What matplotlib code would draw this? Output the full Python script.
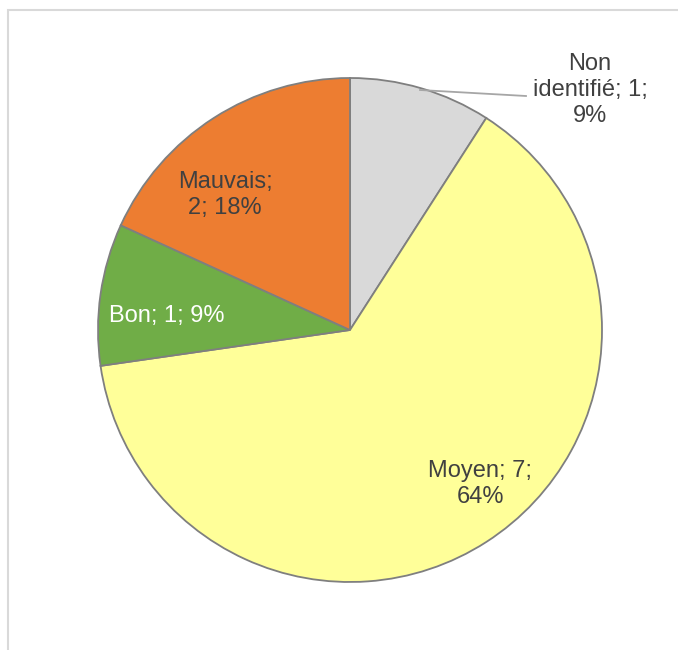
import matplotlib
matplotlib.use("Agg")
import matplotlib.pyplot as plt
from matplotlib.patches import Rectangle

categories = ["Non identifié", "Moyen", "Bon", "Mauvais"]
values = [1, 7, 1, 2]
colors = ["#d9d9d9", "#ffff99", "#70ad47", "#ed7d31"]
label_colors = ["#404040", "#404040", "#ffffff", "#404040"]
label_texts = ["Non\nidentifié; 1;\n9%", "Moyen; 7;\n64%", "Bon; 1; 9%", "Mauvais;\n2; 18%"]

W, H = 678, 650
fig = plt.figure(figsize=(W / 100, H / 100), dpi=100)
ax = fig.add_axes([0, 0, 1, 1])
ax.set_xlim(0, W)
ax.set_ylim(0, H)
ax.set_aspect("equal")
ax.axis("off")

# chart frame
ax.add_patch(Rectangle((8, -20), W + 20, H - 10 + 20, fill=False,
                       edgecolor="#d9d9d9", linewidth=1.5))

cx, cy, r = 350, H - 330, 252
ax.pie(values, colors=colors, startangle=90, counterclock=False,
       center=(cx, cy), radius=r, frame=True,
       wedgeprops=dict(edgecolor="#7f7f7f", linewidth=1.3))
ax.set_xlim(0, W)
ax.set_ylim(0, H)
ax.axis("off")

label_pos = [(590, H - 90), (480, H - 484), (167, H - 316), (225, H - 195)]
for txt, col, (x, y) in zip(label_texts, label_colors, label_pos):
    ax.text(x, y, txt, ha="center", va="center", color=col,
            fontsize=17.0, family=["Liberation Sans", "DejaVu Sans"],
            linespacing=1.22)

# leader line for "Non identifié"
ax.plot([420, 526], [H - 90, H - 96], color="#a6a6a6", linewidth=1.3)

fig.savefig("out.png", dpi=100)
